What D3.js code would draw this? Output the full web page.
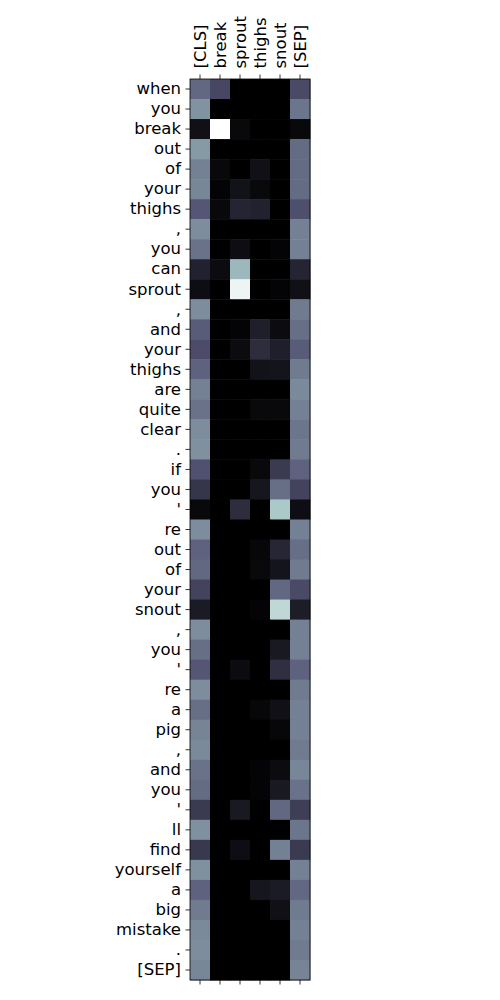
<!DOCTYPE html>
<html><head><meta charset="utf-8">
<script src="https://cdn.jsdelivr.net/npm/d3@7"></script>
<style>body{margin:0;background:#fff}</style>
</head><body>
<svg id="c" width="500" height="1000"></svg>
<script>
const colLabels = ["[CLS]","break","sprout","thighs","snout","[SEP]"];
const rowLabels = ["when","you","break","out","of","your","thighs",",","you","can","sprout",",","and","your","thighs","are","quite","clear",".","if","you","'","re","out","of","your","snout",",","you","'","re","a","pig",",","and","you","'","ll","find","yourself","a","big","mistake",".","[SEP]"];
const values = [
[0.44,0.32,0,0,0,0.33],
[0.58,0,0,0,0,0.48],
[0.07,1.0,0.04,0,0,0.04],
[0.60,0,0,0,0,0.45],
[0.52,0.04,0,0.07,0,0.45],
[0.54,0.02,0.08,0.04,0,0.45],
[0.38,0.04,0.16,0.15,0,0.35],
[0.56,0,0,0,0,0.52],
[0.47,0,0.06,0,0.02,0.52],
[0.15,0.05,0.70,0,0,0.16],
[0.06,0,0.95,0,0.02,0.07],
[0.56,0,0,0,0,0.50],
[0.40,0,0.02,0.14,0.05,0.46],
[0.34,0,0.05,0.20,0.14,0.40],
[0.42,0,0,0.08,0.09,0.50],
[0.52,0,0,0,0,0.55],
[0.47,0,0,0.04,0.04,0.52],
[0.56,0,0,0,0,0.48],
[0.57,0,0,0,0,0.50],
[0.36,0,0,0.04,0.26,0.42],
[0.24,0,0,0.10,0.46,0.30],
[0.04,0,0.20,0,0.76,0.06],
[0.56,0,0,0,0,0.52],
[0.42,0,0,0.03,0.17,0.46],
[0.44,0,0,0.04,0.09,0.50],
[0.30,0,0,0,0.44,0.33],
[0.12,0,0,0.02,0.82,0.13],
[0.56,0,0,0,0,0.52],
[0.46,0,0,0,0.11,0.52],
[0.38,0,0.05,0,0.21,0.42],
[0.56,0,0,0,0,0.50],
[0.46,0,0,0.03,0.07,0.52],
[0.53,0,0,0,0.03,0.52],
[0.55,0,0,0,0,0.50],
[0.47,0,0,0.02,0.05,0.54],
[0.45,0,0,0.02,0.11,0.47],
[0.26,0,0.11,0,0.44,0.28],
[0.57,0,0,0,0,0.48],
[0.25,0,0.06,0,0.52,0.26],
[0.57,0,0,0,0,0.52],
[0.42,0,0,0.10,0.12,0.44],
[0.50,0,0,0,0.07,0.50],
[0.55,0,0,0,0,0.52],
[0.56,0,0,0,0,0.50],
[0.54,0,0,0,0,0.53]
];

// matplotlib "bone" colormap
const boneR = d3.scaleLinear().domain([0,0.746032,1]).range([0,0.652778,1]);
const boneG = d3.scaleLinear().domain([0,0.365079,0.746032,1]).range([0,0.319444,0.777778,1]);
const boneB = d3.scaleLinear().domain([0,0.365079,1]).range([0,0.444444,1]);
const bone = v => d3.rgb(boneR(v)*255, boneG(v)*255, boneB(v)*255).toString();
const vmax = d3.max(values.flat());
const norm = d3.scaleLinear().domain([0, vmax]).range([0,1]).clamp(true);

const svg = d3.select("#c");
const mLeft = 190, mTop = 79, W = 120, H = 901;
const x = d3.scaleBand().domain(d3.range(colLabels.length)).range([mLeft, mLeft+W]);
const y = d3.scaleBand().domain(d3.range(rowLabels.length)).range([mTop, mTop+H]);

const cells = [];
values.forEach((row,i)=>row.forEach((v,j)=>cells.push({i,j,v})));
svg.append("g").selectAll("rect").data(cells).join("rect")
  .attr("x", d=>x(d.j)).attr("y", d=>y(d.i))
  .attr("width", x.bandwidth()+0.5).attr("height", y.bandwidth()+0.5)
  .attr("fill", d=>bone(norm(d.v)));

const font = "DejaVu Sans, sans-serif";
const fs = "16.5px";
// left axis
const yAxis = d3.axisLeft(y).tickFormat(i=>rowLabels[i]).tickSize(4.5).tickPadding(4.5);
const gy = svg.append("g").attr("transform",`translate(${mLeft},0)`).call(yAxis);
gy.select(".domain").remove();
gy.selectAll("text").style("font-family",font).style("font-size",fs).attr("fill","#000");
gy.selectAll("line").attr("stroke","#000").attr("stroke-width",0.8);

// top axis
const xTop = d3.axisTop(x).tickFormat(j=>colLabels[j]).tickSize(4.5).tickPadding(4);
const gt = svg.append("g").attr("transform",`translate(0,${mTop})`).call(xTop);
gt.select(".domain").remove();
gt.selectAll("line").attr("stroke","#000").attr("stroke-width",0.8);
gt.selectAll("text").style("font-family",font).style("font-size",fs).attr("fill","#000")
  .attr("transform","rotate(-90)").attr("text-anchor","start")
  .attr("x", 10.5).attr("y", 0).attr("dy","0.35em");

// bottom axis (ticks only)
const xBot = d3.axisBottom(x).tickFormat("").tickSize(4.5);
const gb = svg.append("g").attr("transform",`translate(0,${mTop+H})`).call(xBot);
gb.select(".domain").remove();
gb.selectAll("line").attr("stroke","#000").attr("stroke-width",0.8);

// frame
svg.append("rect").attr("x",mLeft).attr("y",mTop).attr("width",W).attr("height",H)
  .attr("fill","none").attr("stroke","#000").attr("stroke-width",0.8);
</script>
</body></html>
